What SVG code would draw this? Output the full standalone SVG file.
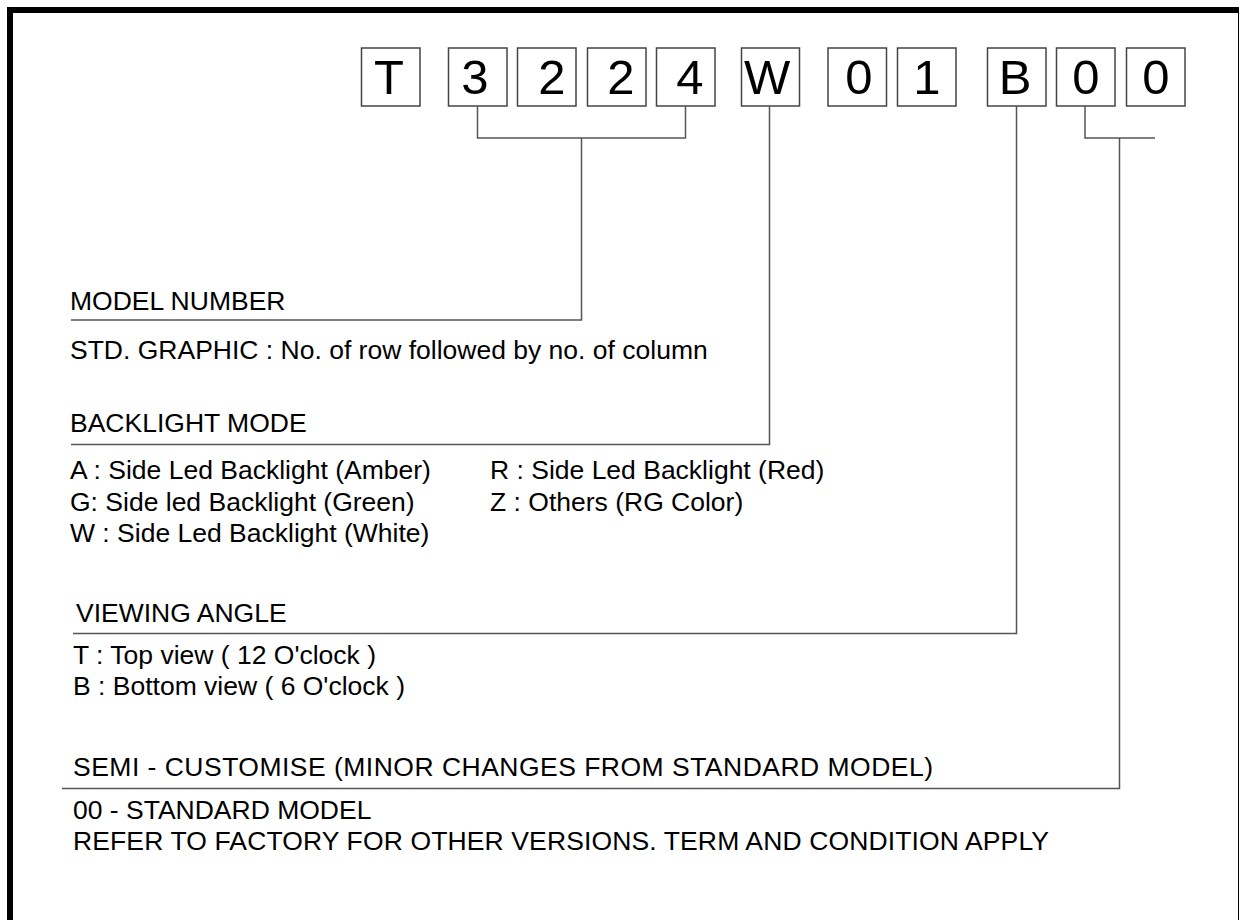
<svg xmlns="http://www.w3.org/2000/svg" width="1239" height="920" viewBox="0 0 1239 920">
<style>
.frame{fill:none;stroke:#000;stroke-width:6}
.box rect{fill:#fff;stroke:#444;stroke-width:1.5}
.box text{font-family:"Liberation Sans",Arial,sans-serif;font-size:49px;fill:#000;text-anchor:middle}
.conn{fill:none;stroke:#555;stroke-width:1.5}
.lbl{font-family:"Liberation Sans",Arial,sans-serif;font-size:26.5px;fill:#000}
</style>
<rect class="frame" x="10" y="10" width="1231" height="960"/>
<g id="boxes">
<g id="box-T" class="box"><rect x="361.5" y="48" width="58.5" height="58"/><text x="389" y="93.5">T</text></g>
<g id="box-3" class="box"><rect x="448.5" y="48" width="58.5" height="58"/><text x="475" y="93.5">3</text></g>
<g id="box-2a" class="box"><rect x="517.5" y="48" width="58.5" height="58"/><text x="552" y="93.5">2</text></g>
<g id="box-2b" class="box"><rect x="587.5" y="48" width="58.5" height="58"/><text x="621" y="93.5">2</text></g>
<g id="box-4" class="box"><rect x="656.5" y="48" width="58.5" height="58"/><text x="690" y="93.5">4</text></g>
<g id="box-W" class="box"><rect x="741.5" y="48" width="58" height="58"/><text x="767" y="93.5">W</text></g>
<g id="box-0a" class="box"><rect x="828" y="48" width="58.5" height="58"/><text x="859" y="93.5">0</text></g>
<g id="box-1" class="box"><rect x="897.5" y="48" width="58.5" height="58"/><text x="927" y="93.5">1</text></g>
<g id="box-B" class="box"><rect x="987.5" y="48" width="58.5" height="58"/><text x="1015" y="93.5">B</text></g>
<g id="box-0b" class="box"><rect x="1056.5" y="48" width="58.5" height="58"/><text x="1086" y="93.5">0</text></g>
<g id="box-0c" class="box"><rect x="1126.5" y="48" width="58.5" height="58"/><text x="1156" y="93.5">0</text></g>
</g>
<g id="connectors">
<path class="conn" d="M477.5 106V138H685.5V106M581.5 138V320H71"/>
<path class="conn" d="M769.5 106V444.5H71"/>
<path class="conn" d="M1016.5 106V633.5H73"/>
<path class="conn" d="M1085 106V138H1155M1119.5 138V788.5H62"/>
</g>
<g id="model-number">
<text class="lbl" x="70" y="310">MODEL NUMBER</text>
<text class="lbl" x="70" y="359">STD. GRAPHIC : No. of row followed by no. of column</text>
</g>
<g id="backlight-mode">
<text class="lbl" x="70" y="431.5">BACKLIGHT MODE</text>
<text class="lbl" x="70" y="479">A : Side Led Backlight (Amber)</text>
<text class="lbl" x="490" y="479">R : Side Led Backlight (Red)</text>
<text class="lbl" x="70" y="510.5">G: Side led Backlight (Green)</text>
<text class="lbl" x="490" y="510.5">Z : Others (RG Color)</text>
<text class="lbl" x="70" y="542">W : Side Led Backlight (White)</text>
</g>
<g id="viewing-angle">
<text class="lbl" x="76" y="621.5">VIEWING ANGLE</text>
<text class="lbl" x="73" y="663.5">T : Top view ( 12 O'clock )</text>
<text class="lbl" x="73" y="694.5">B : Bottom view ( 6 O'clock )</text>
</g>
<g id="semi-customise">
<text class="lbl" x="73" y="776" textLength="860" lengthAdjust="spacing">SEMI - CUSTOMISE (MINOR CHANGES FROM STANDARD MODEL)</text>
<text class="lbl" x="73" y="819">00 - STANDARD MODEL</text>
<text class="lbl" x="73" y="850" textLength="976" lengthAdjust="spacing">REFER TO FACTORY FOR OTHER VERSIONS. TERM AND CONDITION APPLY</text>
</g>
</svg>
